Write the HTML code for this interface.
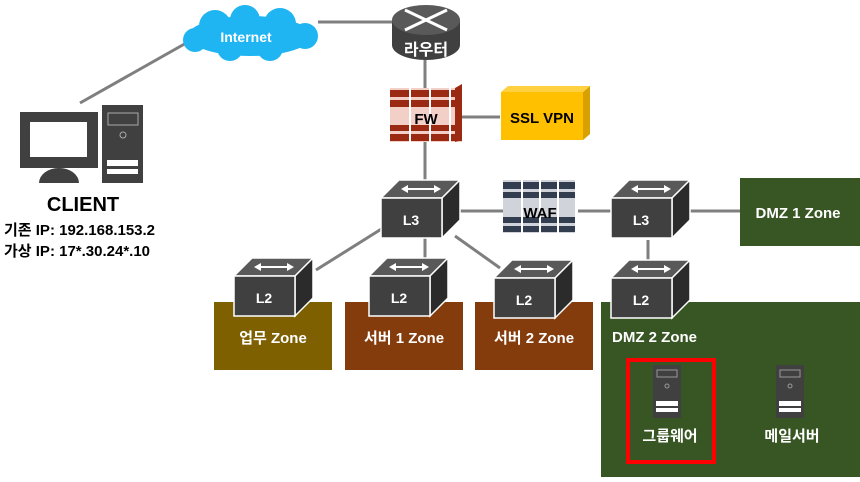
<!DOCTYPE html>
<html><head><meta charset="utf-8"><style>
body{margin:0;background:#fff}
svg text{font-family:"Liberation Sans","Noto Sans CJK KR",sans-serif;font-weight:bold}
</style></head><body>
<svg width="860" height="477" viewBox="0 0 860 477" xmlns="http://www.w3.org/2000/svg">
<defs>
<g id="cube">
 <polygon points="0,18 18,0 79,0 61,18" fill="#595959" stroke="#fff" stroke-width="1.5"/>
 <polygon points="61,18 79,0 79,40 61,58" fill="#2b2b2b" stroke="#fff" stroke-width="1.5"/>
 <rect x="0" y="18" width="61" height="40" fill="#404040" stroke="#fff" stroke-width="1.5"/>
 <line x1="24" y1="9" x2="56" y2="9" stroke="#fff" stroke-width="2"/>
 <polygon points="20,9 27,5 27,13" fill="#fff"/><polygon points="60,9 53,5 53,13" fill="#fff"/>
</g>
<g id="srv">
 <rect x="0" y="0" width="28" height="53" fill="#404040"/>
 <rect x="4" y="5" width="20" height="7" fill="none" stroke="#999" stroke-width="1"/>
 <circle cx="14" cy="21" r="2" fill="none" stroke="#999"/>
 <rect x="3" y="36" width="22" height="5" fill="#fff"/><rect x="3" y="43" width="22" height="4" fill="#fff"/>
</g>
</defs>
<g stroke="#7f7f7f" stroke-width="3">
<line x1="80" y1="103" x2="188" y2="42"/>
<line x1="318" y1="22" x2="395" y2="22"/>
<line x1="425" y1="60" x2="425" y2="88"/>
<line x1="462" y1="117" x2="500" y2="117"/>
<line x1="425" y1="140" x2="425" y2="180"/>
<line x1="460" y1="211" x2="503" y2="211"/>
<line x1="578" y1="211" x2="611" y2="211"/>
<line x1="690" y1="211" x2="740" y2="211"/>
<line x1="648" y1="240" x2="648" y2="260"/>
<line x1="383" y1="228" x2="316" y2="270"/>
<line x1="425" y1="238" x2="425" y2="260"/>
<line x1="455" y1="236" x2="500" y2="268"/>
</g>
<!-- cloud -->
<g fill="#1fb5f2">
<ellipse cx="250" cy="36" rx="62" ry="20"/>
<circle cx="215" cy="26" r="16"/><circle cx="245" cy="20" r="15"/><circle cx="280" cy="24" r="16"/>
<circle cx="305" cy="36" r="13"/><circle cx="195" cy="40" r="12"/><circle cx="230" cy="48" r="13"/><circle cx="270" cy="48" r="13"/>
</g>
<text x="246" y="42" fill="#fff" font-size="14" text-anchor="middle">Internet</text>
<!-- router -->
<path d="M392,20 L392,45 A34,15 0 0 0 460,45 L460,20 Z" fill="#404040"/>
<ellipse cx="426" cy="20" rx="34" ry="15" fill="#595959"/>
<line x1="405" y1="10" x2="447" y2="30" stroke="#fff" stroke-width="3"/>
<line x1="447" y1="10" x2="405" y2="30" stroke="#fff" stroke-width="3"/>
<text x="426" y="55" fill="#fff" font-size="16" text-anchor="middle">라우터</text>
<!-- FW -->
<rect x="390" y="88" width="72" height="54" fill="#f2d0c8"/>
<g fill="#9b2a12">
<rect x="390" y="90" width="72" height="7"/><rect x="390" y="100" width="72" height="7"/>
<rect x="390" y="125" width="72" height="6"/><rect x="390" y="134" width="72" height="7"/>
</g>
<g stroke="#fff" stroke-width="2">
<line x1="410" y1="88" x2="410" y2="142"/><line x1="430" y1="88" x2="430" y2="142"/><line x1="450" y1="88" x2="450" y2="142"/>
</g>
<polygon points="455,88 462,84 462,140 455,142" fill="#9b2a12"/>
<text x="426" y="124" fill="#000" font-size="15" text-anchor="middle">FW</text>
<!-- SSL VPN -->
<rect x="501" y="92" width="82" height="48" fill="#ffc000"/>
<polygon points="583,92 590,86 590,134 583,140" fill="#d8a000"/>
<polygon points="501,92 508,86 590,86 583,92" fill="#ffd040"/>
<text x="542" y="123" fill="#000" font-size="15" text-anchor="middle">SSL VPN</text>
<!-- WAF -->
<rect x="503" y="180" width="72" height="53" fill="#d0d4da"/>
<g fill="#323d4f">
<rect x="503" y="182" width="72" height="7"/><rect x="503" y="192" width="72" height="6"/>
<rect x="503" y="217" width="72" height="6"/><rect x="503" y="226" width="72" height="6"/>
</g>
<g stroke="#fff" stroke-width="2">
<line x1="522" y1="180" x2="522" y2="233"/><line x1="540" y1="180" x2="540" y2="233"/><line x1="558" y1="180" x2="558" y2="233"/>
</g>
<text x="540" y="218" fill="#000" font-size="15" text-anchor="middle">WAF</text>
<!-- zones -->
<rect x="214" y="302" width="118" height="68" fill="#7f6000"/>
<rect x="345" y="302" width="118" height="68" fill="#843c0c"/>
<rect x="475" y="302" width="118" height="68" fill="#843c0c"/>
<rect x="740" y="178" width="120" height="68" fill="#375623"/>
<rect x="601" y="302" width="259" height="175" fill="#375623"/>
<text x="273" y="343" fill="#fff" font-size="15" text-anchor="middle">업무 Zone</text>
<text x="404" y="343" fill="#fff" font-size="15" text-anchor="middle">서버 1 Zone</text>
<text x="534" y="343" fill="#fff" font-size="15" text-anchor="middle">서버 2 Zone</text>
<text x="798" y="218" fill="#fff" font-size="15" text-anchor="middle">DMZ 1 Zone</text>
<text x="612" y="342" fill="#fff" font-size="15">DMZ 2 Zone</text>
<!-- cubes -->
<use href="#cube" x="381" y="180"/><text x="411" y="225" fill="#fff" font-size="14" text-anchor="middle">L3</text>
<use href="#cube" x="611" y="180"/><text x="641" y="225" fill="#fff" font-size="14" text-anchor="middle">L3</text>
<use href="#cube" x="611" y="260"/><text x="641" y="305" fill="#fff" font-size="14" text-anchor="middle">L2</text>
<use href="#cube" x="234" y="258"/><text x="264" y="303" fill="#fff" font-size="14" text-anchor="middle">L2</text>
<use href="#cube" x="369" y="258"/><text x="399" y="303" fill="#fff" font-size="14" text-anchor="middle">L2</text>
<use href="#cube" x="494" y="260"/><text x="524" y="305" fill="#fff" font-size="14" text-anchor="middle">L2</text>
<!-- servers -->
<use href="#srv" x="653" y="365"/><use href="#srv" x="776" y="365"/>
<text x="670" y="441" fill="#fff" font-size="15" text-anchor="middle">그룹웨어</text>
<text x="792" y="441" fill="#fff" font-size="15" text-anchor="middle">메일서버</text>
<rect x="628" y="360" width="86" height="102" fill="none" stroke="#ff0000" stroke-width="4"/>
<!-- client -->
<rect x="20" y="112" width="78" height="56" fill="#404040"/>
<rect x="30" y="122" width="57" height="35" fill="#fff"/>
<path d="M39,183 A20,15 0 0 1 79,183 Z" fill="#404040"/>
<rect x="102" y="105" width="41" height="78" fill="#404040"/>
<rect x="108" y="113" width="30" height="12" fill="none" stroke="#aaa"/>
<circle cx="123" cy="135" r="3" fill="none" stroke="#aaa"/>
<rect x="107" y="160" width="31" height="6" fill="#fff"/><rect x="107" y="169" width="31" height="5" fill="#fff"/>
<text x="83" y="211" fill="#000" font-size="20" text-anchor="middle">CLIENT</text>
<text x="4" y="235" fill="#000" font-size="15">기존 IP: 192.168.153.2</text>
<text x="4" y="256" fill="#000" font-size="15">가상 IP: 17*.30.24*.10</text>
</svg>
</body></html>
